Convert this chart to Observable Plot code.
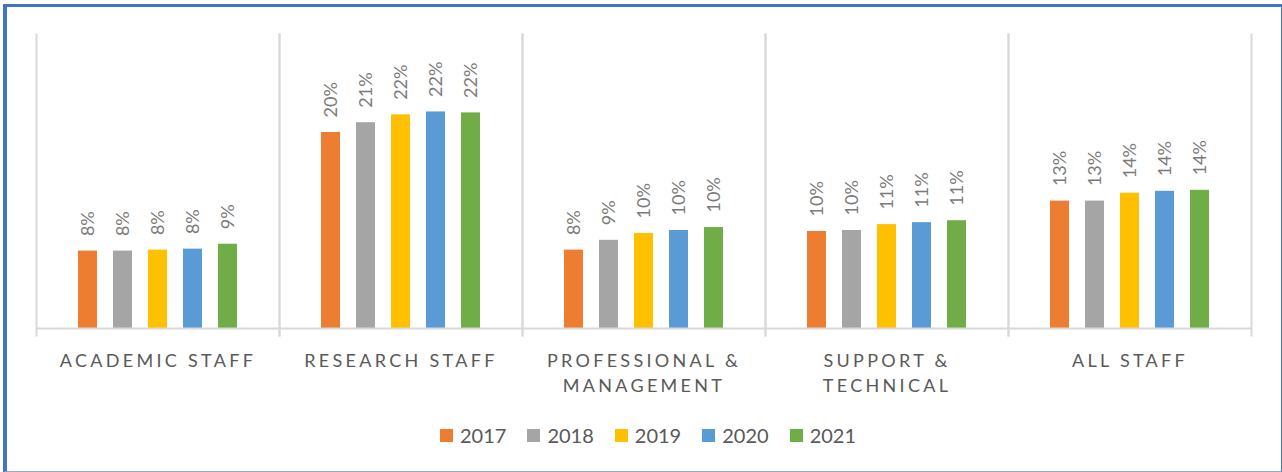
<!DOCTYPE html>
<html>
<head>
<meta charset="utf-8">
<script src="https://cdn.jsdelivr.net/npm/d3@7"></script>
<script src="https://cdn.jsdelivr.net/npm/@observablehq/plot@0.6"></script>
<style>
  html, body { margin: 0; padding: 0; background: #fff; }
  #wrap { position: relative; width: 1282px; height: 472px; overflow: hidden; font-family: Lato, "Open Sans", sans-serif; }
  #chart { position: absolute; left: 0; top: 0; }
  #border { position: absolute; left: 3px; top: 4px; width: 1279px; height: 468px; box-sizing: border-box;
    border-left: 4px solid #4472C4; border-top: 3px solid #4472C4; border-right: 1px solid #4472C4; border-bottom: 1px solid #8EA9DB; pointer-events: none; }
  #legend { position: absolute; left: 440px; top: 423px; display: flex; align-items: center; font-size: 20px; color: #595959; }
  #legend .item { display: flex; align-items: center; margin-right: 21px; }
  #legend .sw { width: 13px; height: 13px; margin-right: 7px; }
  .catlab text { letter-spacing: 3.3px; }
</style>
</head>
<body>
<div id="wrap">
  <div id="chart"></div>
  <div id="legend"></div>
  <div id="border"></div>
</div>
<script>
const categories = ["ACADEMIC STAFF", "RESEARCH STAFF", "PROFESSIONAL & MANAGEMENT", "SUPPORT & TECHNICAL", "ALL STAFF"];
const categoryLines = ["ACADEMIC STAFF", "RESEARCH STAFF", "PROFESSIONAL &\nMANAGEMENT", "SUPPORT &\nTECHNICAL", "ALL STAFF"];
const years = ["2017", "2018", "2019", "2020", "2021"];
const v2017 = [0.079, 0.200, 0.080, 0.099, 0.130];
const v2018 = [0.079, 0.210, 0.090, 0.100, 0.130];
const v2019 = [0.080, 0.218, 0.097, 0.106, 0.138];
const v2020 = [0.081, 0.221, 0.100, 0.108, 0.140];
const v2021 = [0.086, 0.220, 0.103, 0.110, 0.141];
const colors = ["#ED7D31", "#A5A5A5", "#FFC000", "#5B9BD5", "#70AD47"];

const series = [v2017, v2018, v2019, v2020, v2021];
const data = [];
categories.forEach((c, i) => years.forEach((y, j) => data.push({cat: c, year: y, value: series[j][i]})));
const fmt = d3.format(".0%");
const catLabel = new Map(categories.map((c, i) => [c, categoryLines[i]]));

const chart = Plot.plot({
  width: 1282,
  height: 410,
  marginTop: 34,
  marginBottom: 82,
  marginLeft: 34,
  marginRight: 29,
  style: {background: "transparent", fontFamily: "Lato, 'Open Sans', sans-serif"},
  fx: {domain: categories, padding: 0, axis: null},
  x: {domain: years, paddingInner: 0.463, paddingOuter: 1.175, axis: null},
  y: {domain: [0, 0.30], axis: null},
  color: {domain: years, range: colors},
  marks: [
    Plot.frame({anchor: "left", stroke: "#d9d9d9", strokeWidth: 2, insetBottom: -7}),
    Plot.frame({anchor: "right", stroke: "#d9d9d9", strokeWidth: 2, insetBottom: -7}),
    Plot.barY(data, {fx: "cat", x: "year", y: "value", fill: "year"}),
    Plot.ruleY([0], {stroke: "#d9d9d9", strokeWidth: 2}),
    Plot.text(data, {fx: "cat", x: "year", y: "value", text: d => fmt(d.value), rotate: -90,
      textAnchor: "start", lineAnchor: "middle", dy: -15, fill: "#7a7a7a", fontSize: 18}),
    Plot.text(categories, {fx: d => d, text: d => catLabel.get(d), frameAnchor: "bottom",
      lineAnchor: "top", dy: 21, lineHeight: 1.39, fill: "#595959", fontSize: 18, className: "catlab"})
  ]
});
document.getElementById("chart").appendChild(chart);

const legend = document.getElementById("legend");
years.forEach((y, i) => {
  const item = document.createElement("div");
  item.className = "item";
  const sw = document.createElement("span");
  sw.className = "sw";
  sw.style.background = colors[i];
  const t = document.createElement("span");
  t.textContent = y;
  item.appendChild(sw);
  item.appendChild(t);
  legend.appendChild(item);
});
</script>
</body>
</html>
